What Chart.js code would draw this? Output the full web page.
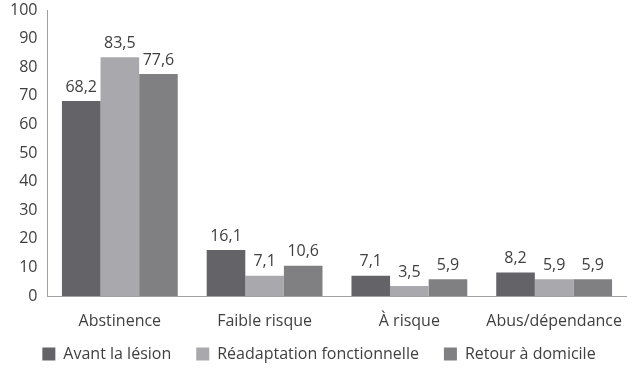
<!DOCTYPE html>
<html>
<head>
<meta charset="utf-8">
<script src="https://cdn.jsdelivr.net/npm/chart.js@4/dist/chart.umd.min.js"></script>
<style>
    body { margin: 0; background: #fff; }
    #wrap { width: 638px; height: 368px; }
</style>
</head>
<body>
<div id="wrap"><canvas id="chartAlcool" width="638" height="368"></canvas></div>
<script>
// catégories et séries
const categories = ['Abstinence', 'Faible risque', 'À risque', 'Abus/dépendance'];
const avantLesion = [68.2, 16.1, 7.1, 8.2];
const readaptation = [83.5, 7.1, 3.5, 5.9];
const retourDomicile = [77.6, 10.6, 5.9, 5.9];
const yTicks = [0, 10, 20, 30, 40, 50, 60, 70, 80, 90, 100];

const fontFamily = "'Open Sans', 'Noto Sans', sans-serif";

// étiquettes de valeurs au-dessus des barres
const valueLabels = {
    id: 'valueLabels',
    afterDatasetsDraw(chart) {
        const ctx = chart.ctx;
        ctx.save();
        ctx.font = '16px ' + fontFamily;
        ctx.fillStyle = '#404040';
        ctx.textAlign = 'center';
        ctx.textBaseline = 'bottom';
        chart.data.datasets.forEach(function(ds, i) {
            chart.getDatasetMeta(i).data.forEach(function(bar, j) {
                const txt = ds.data[j].toFixed(1).replace('.', ',');
                ctx.fillText(txt, bar.x, bar.y - 6);
            });
        });
        ctx.restore();
    }
};

// légende moins haute pour laisser plus de place au graphique
const legendFit = {
    id: 'legendFit',
    beforeInit(chart) {
        const legend = chart.legend;
        const fit = legend.fit;
        const draw = legend.draw;
        legend.fit = function() {
            fit.call(this);
            this.height = 34;
        };
        legend.draw = function() {
            this.top -= 13;
            draw.call(this);
            this.top += 13;
        };
    }
};

const ctx1 = document.getElementById('chartAlcool').getContext('2d');
const chartAlcool = new Chart(ctx1, {
    type: 'bar',
    data: {
        labels: categories,
        datasets: [{
            label: 'Avant la lésion',
            data: avantLesion,
            backgroundColor: '#646468'
        }, {
            label: 'Réadaptation fonctionnelle',
            data: readaptation,
            backgroundColor: '#a9a9ad'
        }, {
            label: 'Retour à domicile',
            data: retourDomicile,
            backgroundColor: '#808082'
        }]
    },
    options: {
        responsive: false,
        maintainAspectRatio: false,
        animation: false,
        layout: { padding: { top: 10, right: 0, left: 0, bottom: 0 } },
        datasets: {
            bar: { categoryPercentage: 0.8, barPercentage: 1.0 }
        },
        scales: {
            x: {
                grid: { display: false, drawTicks: false },
                border: { color: '#a0a0a0', width: 1 },
                ticks: {
                    color: '#404040', font: { size: 16, family: fontFamily }, padding: 16,
                    autoSkip: false, maxRotation: 0, minRotation: 0
                },
                afterFit: function(scale) { scale.height = 38; }
            },
            y: {
                min: 0,
                max: 100,
                afterBuildTicks: function(axis) {
                    axis.ticks = yTicks.map(function(v) { return { value: v }; });
                },
                grid: { display: false, drawTicks: false },
                border: { color: '#a0a0a0', width: 1 },
                ticks: {
                    color: '#404040', font: { size: 16, family: fontFamily }, padding: 10,
                    autoSkip: false
                },
                afterFit: function(scale) { scale.paddingTop = 0; scale.paddingBottom = 0; }
            }
        },
        plugins: {
            title: { display: false },
            tooltip: { enabled: false },
            legend: {
                display: true,
                position: 'bottom',
                labels: {
                    color: '#404040',
                    font: { size: 16, family: fontFamily },
                    boxWidth: 13,
                    boxHeight: 13,
                    padding: 25
                }
            }
        }
    },
    plugins: [valueLabels, legendFit]
});
</script>
</body>
</html>
